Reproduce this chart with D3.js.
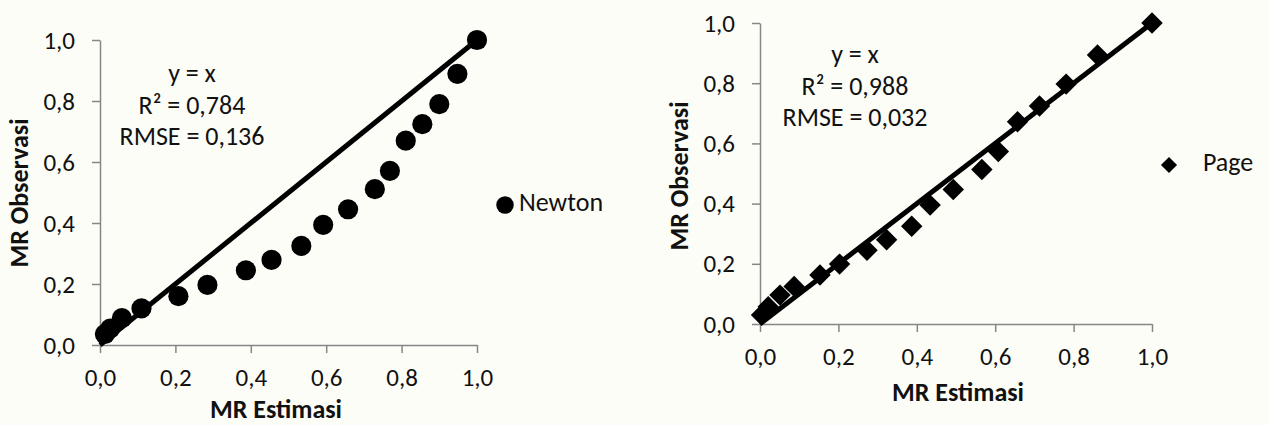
<!DOCTYPE html>
<html>
<head>
<meta charset="utf-8">
<script src="https://cdn.jsdelivr.net/npm/d3@7"></script>
<style>
  body { margin: 0; background: #fdfdf7; }
  text { font-family: Carlito, Calibri, Lato, sans-serif; fill: #111; }
</style>
</head>
<body>
<script>
// chart values
var ticks = [0, 0.2, 0.4, 0.6, 0.8, 1.0];
var newtonX = [0.013, 0.027, 0.058, 0.110, 0.208, 0.285, 0.387, 0.455, 0.534, 0.592, 0.658, 0.729, 0.769, 0.811, 0.855, 0.900, 0.948, 1.0];
var newtonY = [0.036, 0.054, 0.088, 0.120, 0.160, 0.197, 0.245, 0.279, 0.325, 0.394, 0.445, 0.511, 0.571, 0.670, 0.724, 0.790, 0.889, 1.0];
var pageX = [0.004, 0.021, 0.051, 0.087, 0.153, 0.203, 0.273, 0.323, 0.387, 0.434, 0.493, 0.566, 0.608, 0.657, 0.713, 0.781, 0.861, 1.0];
var pageY = [0.030, 0.057, 0.096, 0.125, 0.163, 0.199, 0.245, 0.280, 0.325, 0.395, 0.447, 0.513, 0.573, 0.672, 0.724, 0.797, 0.894, 1.0];
var newtonStats = ["y = x", "R² = 0,784", "RMSE = 0,136"];
var pageStats = ["y = x", "R² = 0,988", "RMSE = 0,032"];

var fmt = function(d){ return d3.format(".1f")(d).replace(".", ","); };

var svg = d3.select("body").append("svg")
    .attr("width", 1269)
    .attr("height", 425);

function panel(p){
    var x = d3.scaleLinear().domain([0, 1]).range([p.x0, p.x1]);
    var y = d3.scaleLinear().domain([0, 1]).range([p.y0, p.y1]);
    var g = svg.append("g");

    //axes
    var xa = g.append("g").attr("transform", "translate(0," + p.y0 + ")")
        .call(d3.axisBottom(x).tickValues(ticks).tickFormat(fmt).tickSizeInner(8).tickSizeOuter(0).tickPadding(27));
    var ya = g.append("g").attr("transform", "translate(" + p.x0 + ",0)")
        .call(d3.axisLeft(y).tickValues(ticks).tickFormat(fmt).tickSizeInner(8).tickSizeOuter(0).tickPadding(17));
    [xa, ya].forEach(function(a){
        a.selectAll("path, line").attr("stroke", "#868686").attr("stroke-width", 1.5);
        a.selectAll("text").style("font-size", "25px").attr("fill", "#111");
    });
    xa.selectAll("text").attr("dy", null).attr("dominant-baseline", "middle");

    //y = x line
    g.append("line")
        .attr("x1", x(0)).attr("y1", y(0))
        .attr("x2", x(1)).attr("y2", y(1))
        .attr("stroke", "#000").attr("stroke-width", 5);

    //points
    var sym = d3.symbol().type(p.shape).size(p.size);
    g.selectAll(".pt").data(p.xs)
        .enter().append("path")
        .attr("class", "pt")
        .attr("d", sym)
        .attr("transform", function(d, i){
            return "translate(" + x(d) + "," + y(p.ys[i]) + ")" + (p.shape === d3.symbolSquare ? " rotate(45)" : "");
        })
        .attr("fill", "#000");

    //stats text
    g.selectAll(".stat").data(p.stats)
        .enter().append("text")
        .attr("x", p.statX)
        .attr("y", function(d, i){ return p.statY + i * 31.5; })
        .attr("text-anchor", "middle")
        .attr("dominant-baseline", "middle")
        .style("font-size", "26px")
        .text(function(d){ return d; });

    //axis titles
    g.append("text")
        .attr("x", p.xtX).attr("y", p.xtY)
        .attr("text-anchor", "middle").attr("dominant-baseline", "middle")
        .style("font-size", "26px").style("font-weight", "bold")
        .text("MR Estimasi");
    g.append("text")
        .attr("transform", "translate(" + p.ytX + "," + p.ytY + ") rotate(-90)")
        .attr("text-anchor", "middle").attr("dominant-baseline", "middle")
        .style("font-size", "26px").style("font-weight", "bold")
        .text("MR Observasi");

    //legend
    g.append("path")
        .attr("d", d3.symbol().type(p.shape).size(p.legSize))
        .attr("transform", "translate(" + p.legX + "," + p.legY + ")" + (p.shape === d3.symbolSquare ? " rotate(45)" : ""))
        .attr("fill", "#000");
    g.append("text")
        .attr("x", p.legTx).attr("y", p.legY)
        .attr("dominant-baseline", "middle")
        .style("font-size", "26px")
        .text(p.name);
}

panel({
    x0: 100, x1: 477, y0: 345, y1: 40,
    xs: newtonX, ys: newtonY, shape: d3.symbolCircle, size: 320, legSize: 240,
    stats: newtonStats, statX: 192, statY: 76,
    xtX: 276, xtY: 412, ytX: 22, ytY: 193,
    legX: 505, legY: 205, legTx: 519, name: "Newton"
});

panel({
    x0: 760, x1: 1152, y0: 324, y1: 23,
    xs: pageX, ys: pageY, shape: d3.symbolSquare, size: 230, legSize: 130,
    stats: pageStats, statX: 855, statY: 57,
    xtX: 958, xtY: 395, ytX: 682, ytY: 176,
    legX: 1169, legY: 165, legTx: 1203, name: "Page"
});
</script>
</body>
</html>
